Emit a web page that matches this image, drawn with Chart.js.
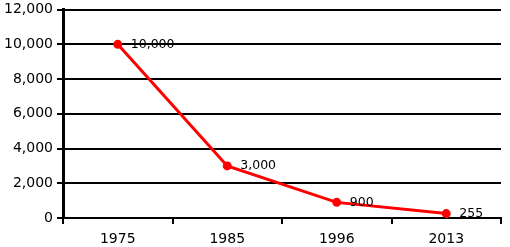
<!DOCTYPE html>
<html><head><meta charset="utf-8">
<script src="https://cdn.jsdelivr.net/npm/chart.js@4"></script>
<style>html,body{margin:0;padding:0;background:#fff}#w{width:510px;height:247px}</style>
</head><body><div id="w"><canvas id="c"></canvas></div>
<script>
const categories = ["1975","1985","1996","2013"];
const values = [10000, 3000, 900, 255];
const valueLabels = ["10,000","3,000","900","255"];
const yTicks = [0,2000,4000,6000,8000,10000,12000];

const labelPlugin = {
  id:'lbl',
  afterDatasetsDraw(chart){
    const ctx = chart.ctx;
    const meta = chart.getDatasetMeta(0);
    ctx.save();
    ctx.font = '12.5px "DejaVu Sans"';
    ctx.fillStyle = '#000';
    ctx.textBaseline = 'middle';
    meta.data.forEach((p,i)=>{ ctx.fillText(valueLabels[i], p.x+13, p.y); });
    ctx.restore();
  }
};

new Chart(document.getElementById('c'), {
  type:'line',
  data:{labels:categories, datasets:[{data:values, borderColor:'#ff0000', backgroundColor:'#ff0000', borderWidth:3, pointRadius:3, pointHoverRadius:3, tension:0}]},
  options:{
    responsive:true, maintainAspectRatio:false, animation:false,
    layout:{padding:{top:0,right:9,left:0,bottom:0}},
    plugins:{legend:{display:false}, tooltip:{enabled:false}},
    scales:{
      x:{
        offset:true,
        grid:{offset:true, drawOnChartArea:true, color:(c)=> c.index===categories.length ? '#000' : 'rgba(0,0,0,0)', tickColor:'#000', lineWidth:2, tickLength:6},
        border:{color:'#000', width:2},
        ticks:{color:'#000', font:{family:'DejaVu Sans', size:14}, padding:7},
        afterFit(s){ s.height = 29; }
      },
      y:{
        min:0, max:12000,
        afterBuildTicks(s){ s.ticks = yTicks.map(v=>({value:v})); },
        grid:{color:'#000', lineWidth:2, tickLength:6},
        border:{color:'#000', width:3},
        ticks:{color:'#000', font:{family:'DejaVu Sans', size:14, lineHeight:0.8}, padding:4, callback:(v)=>v.toLocaleString('en-US')},
        afterFit(s){ s.width = 63; }
      }
    }
  },
  plugins:[labelPlugin]
});
</script></body></html>
